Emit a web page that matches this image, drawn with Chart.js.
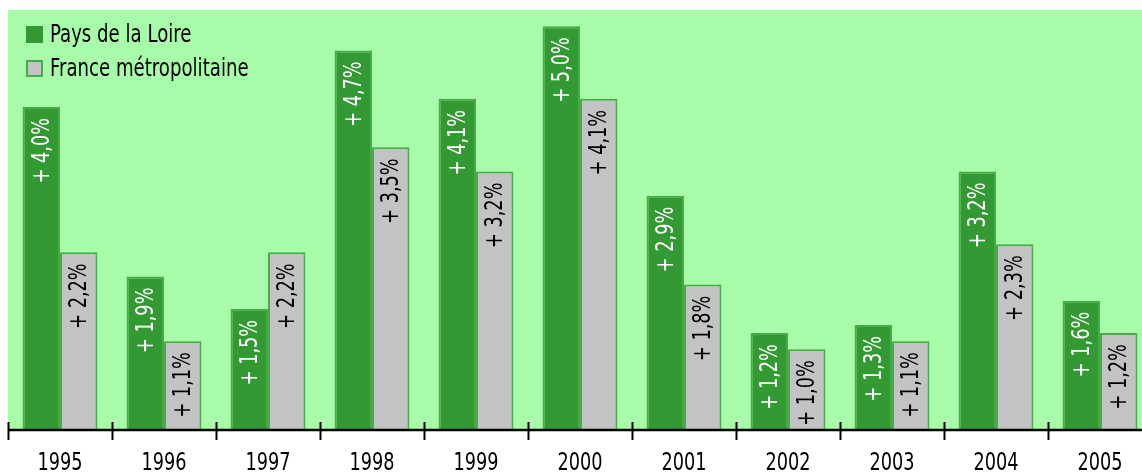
<!DOCTYPE html>
<html>
<head>
<meta charset="utf-8">
<script src="https://cdn.jsdelivr.net/npm/chart.js@4/dist/chart.umd.min.js"></script>
<style>
  html, body { margin: 0; padding: 0; background: #fff; overflow: hidden; }
  #wrap { position: relative; width: 1152px; height: 473px; }
  #legend { position: absolute; left: 26px; top: 21px; font: 24px "DejaVu Sans Condensed", "DejaVu Sans", sans-serif; color: #000; }
  #legend div { height: 34px; line-height: 26px; white-space: nowrap; }
  #legend span.box { display: inline-block; width: 17px; height: 17px; box-sizing: border-box; vertical-align: -1px; margin-right: 7px; }
  #legend span.txt { display: inline-block; transform: scaleX(0.84); transform-origin: left center; }
</style>
</head>
<body>
<div id="wrap">
  <canvas id="chart" width="1152" height="473"></canvas>
  <div id="legend"></div>
</div>
<script>
const years = ["1995", "1996", "1997", "1998", "1999", "2000", "2001", "2002", "2003", "2004", "2005"];
const paysLoire = [4.0, 1.9, 1.5, 4.7, 4.1, 5.0, 2.9, 1.2, 1.3, 3.2, 1.6];
const france = [2.2, 1.1, 2.2, 3.5, 3.2, 4.1, 1.8, 1.0, 1.1, 2.3, 1.2];

const fontFamily = '"DejaVu Sans Condensed", "DejaVu Sans", sans-serif';
const plotBg = "#a8fba8";
const squeeze = 0.82; // the original uses a narrow font

let formatPct = (v) => "+ " + v.toFixed(1).replace(".", ",") + "%";

const areaBg = {
  id: "areaBg",
  beforeDraw(chart) {
    let a = chart.chartArea;
    let ctx = chart.ctx;
    ctx.save();
    ctx.fillStyle = plotBg;
    ctx.fillRect(a.left, a.top, a.right - a.left, a.bottom - a.top);
    ctx.restore();
  },
};

const axisTicks = {
  id: "axisTicks",
  afterDatasetsDraw(chart) {
    let x = chart.scales.x;
    let ctx = chart.ctx;
    let y = chart.chartArea.bottom;
    let step = x.width / years.length;
    ctx.save();
    ctx.strokeStyle = "#000";
    ctx.lineWidth = 2.5;
    ctx.beginPath();
    ctx.moveTo(x.left, y);
    ctx.lineTo(x.right, y);
    ctx.stroke();
    ctx.lineWidth = 2;
    for (let i = 0; i <= years.length; i++) {
      let px = Math.round(x.left + i * step) + 0.5;
      ctx.beginPath();
      ctx.moveTo(px, y - 8);
      ctx.lineTo(px, y + 10);
      ctx.stroke();
    }
    // year labels, squeezed horizontally
    ctx.fillStyle = "#000";
    ctx.font = "24px " + fontFamily;
    ctx.textAlign = "center";
    ctx.textBaseline = "alphabetic";
    years.forEach((yr, i) => {
      ctx.save();
      ctx.translate(x.getPixelForValue(i), y + 40);
      ctx.scale(squeeze, 1);
      ctx.fillText(yr, 0, 0);
      ctx.restore();
    });
    ctx.restore();
  },
};

const barLabels = {
  id: "barLabels",
  afterDatasetsDraw(chart) {
    let ctx = chart.ctx;
    ctx.save();
    ctx.font = "24px " + fontFamily;
    ctx.textAlign = "right";
    ctx.textBaseline = "middle";
    chart.data.datasets.forEach((ds, di) => {
      let meta = chart.getDatasetMeta(di);
      meta.data.forEach((bar, i) => {
        ctx.save();
        ctx.translate(bar.x + 1, bar.y + 11);
        ctx.rotate(-Math.PI / 2);
        ctx.scale(squeeze, 1);
        ctx.fillStyle = ds.labelColor;
        ctx.fillText(formatPct(ds.data[i]), 0, 0);
        ctx.restore();
      });
    });
    ctx.restore();
  },
};

const datasets = [
  {
    label: "Pays de la Loire",
    data: paysLoire,
    backgroundColor: "#339933",
    borderColor: "#45ad45",
    borderWidth: 2,
    labelColor: "#fff",
  },
  {
    label: "France métropolitaine",
    data: france,
    backgroundColor: "#c3c3c3",
    borderColor: "#45ad45",
    borderWidth: 2,
    labelColor: "#000",
  },
];

new Chart(document.getElementById("chart").getContext("2d"), {
  type: "bar",
  data: { labels: years, datasets: datasets },
  options: {
    responsive: false,
    animation: false,
    layout: { padding: { left: 8, top: 10, right: 0, bottom: 0 } },
    datasets: { bar: { categoryPercentage: 0.72, barPercentage: 1 } },
    plugins: {
      legend: { display: false },
      tooltip: { enabled: false },
    },
    scales: {
      x: {
        grid: { display: false },
        border: { display: false },
        ticks: { display: false },
        afterFit: (s) => { s.height = 43; },
      },
      y: {
        display: false,
        min: 0,
        max: 5.2,
      },
    },
  },
  plugins: [areaBg, barLabels, axisTicks],
});

let legendHtml = "";
datasets.forEach((ds, i) => {
  legendHtml += '<div><span class="box" style="background:' + ds.backgroundColor +
    ";border:" + (i === 0 ? "0" : "2px solid " + ds.borderColor) +
    '"></span><span class="txt">' + ds.label + "</span></div>";
});
document.getElementById("legend").innerHTML = legendHtml;
</script>
</body>
</html>
